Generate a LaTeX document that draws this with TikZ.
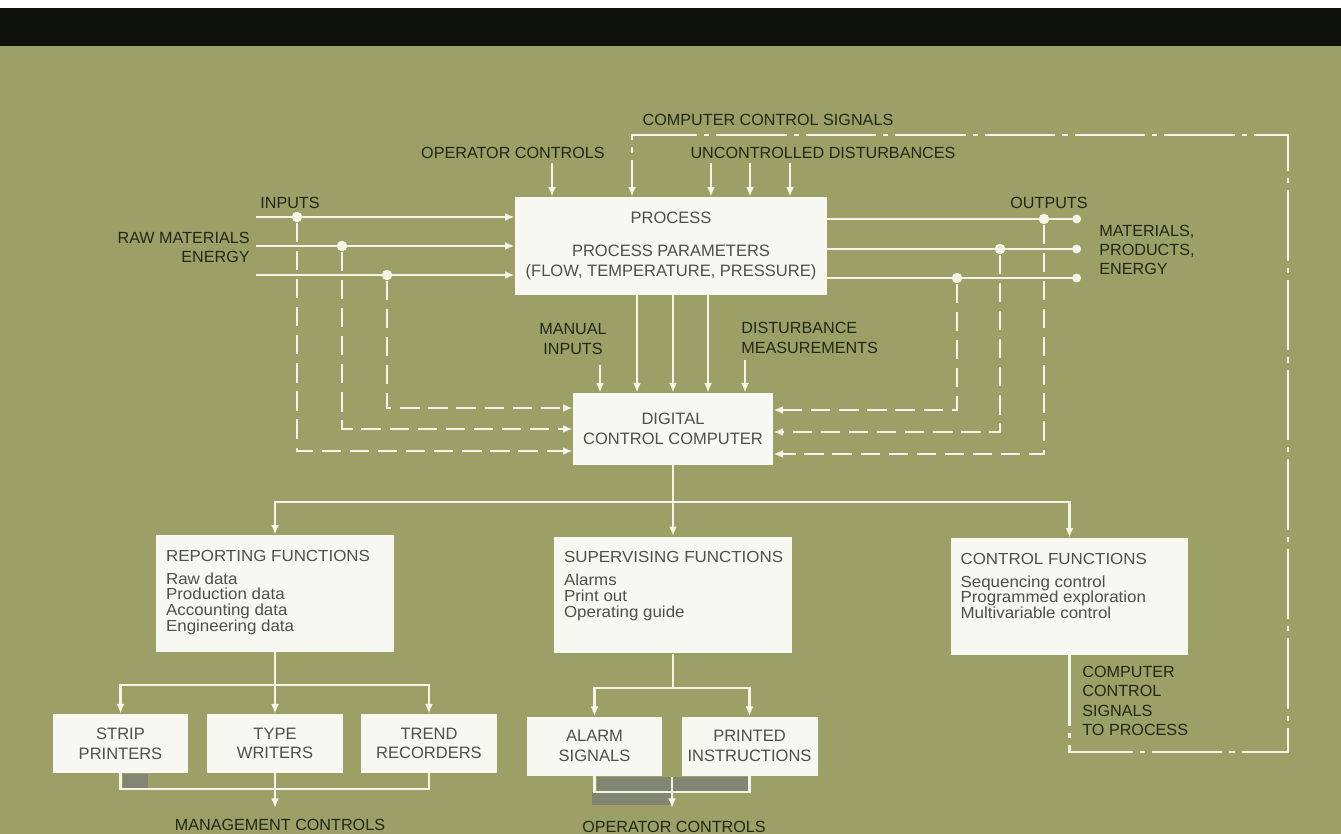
\documentclass[tikz,border=0pt]{standalone}
\usepackage{fontspec}
\setmainfont{Liberation Sans}
\newfontfamily\widesans[FakeStretch=1.06]{Liberation Sans}
\usepackage{tikz}
\usetikzlibrary{arrows.meta, positioning}
\definecolor{backdrop}{RGB}{156,159,102}
\definecolor{topbar}{RGB}{14,16,12}
\definecolor{wire}{RGB}{244,244,232}
\definecolor{paper}{RGB}{248,248,243}
\definecolor{ink}{RGB}{32,42,24}
\definecolor{boxink}{RGB}{78,80,74}
\definecolor{smudge}{RGB}{128,134,114}
\newcommand*{\lblfont}{\fontsize{9.2}{10.9}\selectfont}
\newcommand*{\boxfont}{\fontsize{9.4}{11.2}\selectfont}
\newcommand*{\listfont}{\widesans\fontsize{9.1}{9}\selectfont}
\tikzstyle{block} = [rectangle, fill=paper, inner sep=0pt, text=boxink, font=\boxfont, align=center]
\tikzstyle{device} = [block, minimum width=2.72cm, minimum height=1.18cm]
\tikzstyle{function} = [block, inner xsep=0.2cm, font=\listfont]
\tikzstyle{note} = [text=ink, font=\lblfont, inner sep=0pt]
\tikzstyle{wireline} = [draw=wire, line width=1.5pt]
\tikzstyle{flow} = [wireline, -{Latex[length=5.5pt, width=4.5pt]}]
\tikzstyle{outflow} = [wireline, -{Circle[length=5pt]}]
\tikzstyle{feed} = [flow, dash pattern=on 11pt off 5pt]
\tikzstyle{ctrlline} = [flow, line width=1.3pt, dash pattern=on 40pt off 4pt on 3pt off 4pt]
\tikzstyle{junction} = [circle, fill=wire, inner sep=0pt, minimum size=6pt]
\newcommand{\fnbox}[2]{\parbox[c][2.34cm][t]{4.36cm}{\raggedright\vspace*{0.3cm}\mbox{#1}\par\vspace{4pt}#2}}

\begin{document}
\begin{tikzpicture}[x=0.02cm, y=-0.02cm]
    % Backdrop.
    \useasboundingbox (0,0) rectangle (1341,834);
    \fill[white] (0,0) rectangle (1341,8);
    \fill[topbar] (0,8) rectangle (1341,46);
    \fill[backdrop] (0,46) rectangle (1341,834);

    % Print smudges.
    \fill[smudge] (123,774) rectangle (148,788);
    \fill[smudge] (597,777) rectangle (748,792);
    \fill[smudge] (592,792) rectangle (672,805);

    % Main blocks.
    \node (process) [block, minimum width=6.24cm, minimum height=1.96cm] at (671,246)
        {PROCESS\\[7.5pt]PROCESS PARAMETERS\\(FLOW, TEMPERATURE, PRESSURE)};
    \node (computer) [block, minimum width=4cm, minimum height=1.44cm] at (673,429)
        {DIGITAL\\CONTROL COMPUTER};

    % Function blocks.
    \node (reporting) [function] at (275,593.5) {\fnbox{REPORTING FUNCTIONS}
        {Raw data\\Production data\\Accounting data\\Engineering data}};
    \node (supervising) [function] at (673,595) {\fnbox{SUPERVISING FUNCTIONS}
        {Alarms\\Print out\\Operating guide}};
    \node (control) [function] at (1069.5,596.5) {\fnbox{CONTROL FUNCTIONS}
        {Sequencing control\\Programmed exploration\\Multivariable control}};

    % Output devices.
    \node (strip) [device] at (120.5,743.5) {STRIP\\PRINTERS};
    \node (typewriters) [device] at (275,743.5) {TYPE\\WRITERS};
    \node (trend) [device] at (429,743.5) {TREND\\RECORDERS};
    \node (alarm) [device] at (594.5,746) {ALARM\\SIGNALS};
    \node (printed) [device] at (749.5,746) {PRINTED\\INSTRUCTIONS};

    % Labels.
    \node (opctl) [note] at (513,153) {OPERATOR CONTROLS};
    \node (ccs) [note] at (768,120) {COMPUTER CONTROL SIGNALS};
    \node (uncd) [note] at (823,153) {UNCONTROLLED DISTURBANCES};
    \node (inputs) [note] at (290,203) {INPUTS};
    \node (raw) [note, anchor=east, align=right] at (250,247.5) {RAW MATERIALS\\ENERGY};
    \node (outputs) [note] at (1049,203) {OUTPUTS};
    \node (products) [note, anchor=west, align=left] at (1099,250) {MATERIALS,\\PRODUCTS,\\ENERGY};
    \node (manual) [note, align=center] at (573,339) {MANUAL\\INPUTS};
    \node (measure) [note, anchor=west, align=left] at (741,338) {DISTURBANCE\\MEASUREMENTS};
    \node (mgmt) [note] at (280,825) {MANAGEMENT CONTROLS};
    \node (opbottom) [note] at (674,827) {OPERATOR CONTROLS};
    \node (tosignal) [note, anchor=west, align=left] at (1082,701) {COMPUTER\\CONTROL\\SIGNALS\\TO PROCESS};

    % Arrows into the process.
    \coordinate (opctlin) at (552,163);
    \draw [flow] (opctlin) -- (opctlin |- process.north);
    \foreach \x in {711,750,790} {
        \coordinate (dist\x) at (\x,163);
        \draw [flow] (dist\x) -- (dist\x |- process.north);
    }

    % Inputs and outputs, with their measurements.
    \foreach \i/\y/\jx/\fy in {1/217/297/451, 2/246/342/429, 3/275/387/408} {
        \coordinate (in\i) at (256,\y);
        \draw [flow] (in\i) -- (in\i -| process.west);
        \node (injoint\i) [junction] at (\jx,\y) {};
        \draw [feed] (injoint\i) |- (computer.west |- 0,\fy);
    }
    \foreach \i/\y/\jx/\fy in {1/219/1044/454, 2/249/1000/432, 3/278/957/410} {
        \coordinate (out\i) at (1081,\y);
        \draw [outflow] (process.east |- out\i) -- (out\i);
        \node (outjoint\i) [junction] at (\jx,\y) {};
        \draw [feed] (outjoint\i) |- (computer.east |- 0,\fy);
    }

    % Process to computer.
    \foreach \x in {637,673,708} {
        \draw [flow] (process.south -| \x,0) -- (computer.north -| \x,0);
    }
    \coordinate (manualin) at (600,365);
    \draw [flow] (manualin) -- (manualin |- computer.north);
    \coordinate (measurein) at (745,360);
    \draw [flow] (measurein) -- (measurein |- computer.north);

    % Computer to functions.
    \coordinate (bus) at (673,502);
    \draw [flow] (computer.south) -- (supervising.north);
    \draw [flow] (bus) -| (reporting.north);
    \draw [flow] (bus) -| (control.north);

    % Reporting devices.
    \coordinate (repbus) at (275,685);
    \draw [flow] (reporting.south) -- (typewriters.north);
    \draw [flow] (repbus) -| (strip.north);
    \draw [flow] (repbus) -| (trend.north);
    \coordinate (mgmtbus) at (275,789);
    \coordinate (mgmtin) at (275,808);
    \draw [wireline] (strip.south) |- (mgmtbus) -| (trend.south);
    \draw [flow] (typewriters.south) -- (mgmtin);

    % Supervising devices.
    \coordinate (supbus) at (673,688);
    \draw [wireline] (supervising.south) -- (supbus);
    \draw [flow] (supbus) -| (alarm.north);
    \draw [flow] (supbus) -| (printed.north);
    \coordinate (opbus) at (672,792);
    \coordinate (optop) at (672,777);
    \coordinate (opin) at (672,808);
    \draw [wireline] (alarm.south) |- (opbus) -| (printed.south);
    \draw [flow] (optop) -- (opin);

    % Control signals back to the process.
    \coordinate (sigcorner) at (1288,752);
    \coordinate (sigturn) at (1288,135);
    \coordinate (sigdrop) at (632,135);
    \draw [ctrlline] (control.south) |- (sigcorner) -- (sigturn) -- (sigdrop) -- (sigdrop |- process.north);
\end{tikzpicture}
\end{document}
